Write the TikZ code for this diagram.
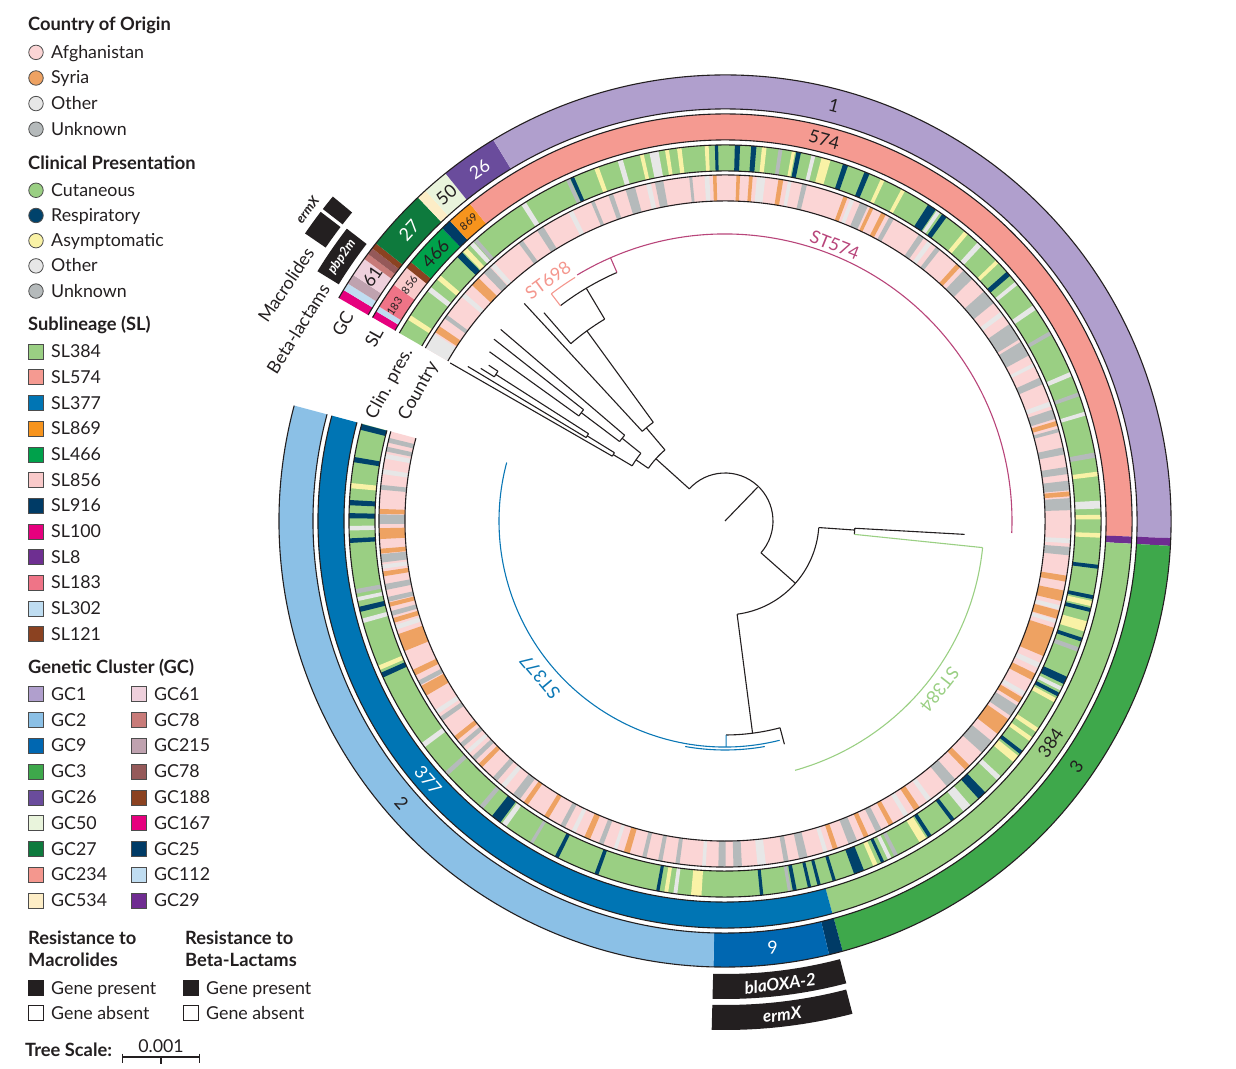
\documentclass[tikz,border=0pt]{standalone}
\usepackage{fontspec}
\setmainfont{Lato}

\definecolor{ink}{HTML}{231F20}
% country of origin
\definecolor{afg}{HTML}{FBD5D5}
\definecolor{syr}{HTML}{EEA262}
\definecolor{oth}{HTML}{E7E7E7}
\definecolor{unk}{HTML}{B5BABB}
% clinical presentation
\definecolor{cut}{HTML}{9ACF83}
\definecolor{resp}{HTML}{00426B}
\definecolor{asym}{HTML}{F9F2A6}
% sublineages
\definecolor{sl384}{HTML}{9ACF83}
\definecolor{sl574}{HTML}{F59A91}
\definecolor{sl377}{HTML}{0075B4}
\definecolor{sl869}{HTML}{F7941D}
\definecolor{sl466}{HTML}{00A14B}
\definecolor{sl856}{HTML}{F9CACA}
\definecolor{sl916}{HTML}{003B66}
\definecolor{sl100}{HTML}{E6007E}
\definecolor{sl8}{HTML}{6E2F91}
\definecolor{sl183}{HTML}{EF7487}
\definecolor{sl302}{HTML}{BFDDF1}
\definecolor{sl121}{HTML}{8B4221}
% genetic clusters
\definecolor{gc1}{HTML}{B09FCD}
\definecolor{gc2}{HTML}{8BC0E6}
\definecolor{gc9}{HTML}{0067B1}
\definecolor{gc3}{HTML}{3EA84B}
\definecolor{gc26}{HTML}{6A4C9C}
\definecolor{gc50}{HTML}{E9F4DC}
\definecolor{gc27}{HTML}{0E7A3D}
\definecolor{gc234}{HTML}{F4978E}
\definecolor{gc534}{HTML}{FDEDC6}
\definecolor{gc61}{HTML}{EED0DC}
\definecolor{gc78}{HTML}{C87B79}
\definecolor{gc215}{HTML}{BFA2AF}
\definecolor{gc78b}{HTML}{955959}
\definecolor{gc188}{HTML}{8B4221}
\definecolor{gc167}{HTML}{E6007E}
\definecolor{gc25}{HTML}{003B66}
\definecolor{gc112}{HTML}{C0DDF1}
\definecolor{gc29}{HTML}{6F2C91}
% clades
\definecolor{st574}{HTML}{B8457A}
\definecolor{st698}{HTML}{F4978E}
\definecolor{st384}{HTML}{9ACF83}
\definecolor{st377}{HTML}{0A77B5}

% colour, from angle, to angle, inner radius, outer radius
\newcommand\band[5]{%
  \fill[#1] (#2:#4) arc[start angle=#2, end angle=#3, radius=#4]
    -- (#3:#5) arc[start angle=#3, end angle=#2, radius=#5] -- cycle;}
% branch: angle, r1, r2
\newcommand\rline[4][]{\draw[treeline,#1] (#2:#3) -- (#2:#4);}
% node arc: from, to, radius
\newcommand\carc[4][]{\draw[treeline,#1] (#2:#4) arc[start angle=#2, end angle=#3, radius=#4];}

\begin{document}
\begin{tikzpicture}[x=1pt, y=1pt, font=\fontsize{17.8}{20}\selectfont, text=ink,
  treeline/.style={ink, line width=1.1},
  ringedge/.style={ink, line width=1.1},
  legenddot/.style={circle, draw=black!70, line width=0.8, minimum size=14.5, inner sep=0},
  keybox/.style={draw=black!70, line width=0.8, minimum size=15, inner sep=0},
  legendtext/.style={anchor=base west, inner sep=0},
  legendhead/.style={legendtext, font=\fontsize{18.3}{20}\selectfont\bfseries},
  ringnum/.style={inner sep=0},
  smallnum/.style={inner sep=0, font=\fontsize{11}{12}\selectfont},
  ringlab/.style={anchor=east, inner sep=0},
  cladelab/.style={inner sep=0},
  genelab/.style={inner sep=0, font=\fontsize{17}{20}\selectfont\bfseries\itshape}]

\useasboundingbox (0,0) rectangle (1236,1068);

\begin{scope}[shift={(725,547)}]

% country ring
\band{afg}{150}{-195}{320}{346}
\foreach \a/\w/\c in {148.6/2.8/oth, 146.3/1.2/syr, 143.8/0.7/unk, 139.2/0.8/oth, 136.2/1.6/syr,
  133.5/1.4/unk, 132.2/0.8/oth, 126.2/0.8/unk, 122.3/1.2/unk, 116.5/0.8/oth, 112.5/0.6/unk,
  109.3/0.8/unk, 105.9/1.6/unk, 102.8/0.8/oth, 101/1.4/unk, 95.7/0.5/unk, 93/0.8/oth,
  91.7/0.6/syr, 87.8/0.6/syr, 85.7/0.6/syr, 84/1.4/oth, 80.7/0.8/syr, 79.2/0.6/oth,
  76.7/0.8/unk, 69.6/0.7/syr, 68.4/0.7/oth, 66.3/1.4/unk, 64.9/0.6/syr, 62.7/0.8/syr,
  61.2/0.8/unk, 55.4/1/unk, 53.7/0.8/oth, 52/0.8/unk, 47.6/0.8/syr, 45.4/2/unk, 40.3/2.5/unk,
  36.8/0.8/oth, 33.2/3/unk, 29.9/2.6/unk, 26.8/0.6/oth, 23.9/1.2/unk, 19.8/0.8/oth, 18/1.6/unk,
  16.4/0.8/syr, 15.2/0.6/unk, 11.7/1.2/unk, 8.4/1.2/unk, 5.9/1.6/unk, 4.5/0.8/syr, 2.8/2/unk,
  -3.3/0.8/oth, -5/1.4/unk, -9.6/1/syr, -12.5/1.8/syr, -14.5/0.7/oth, -15.7/1.4/syr,
  -16.9/0.6/oth, -20.5/5/syr, -24.7/0.9/oth, -26.8/1.2/syr, -30/0.8/oth, -31.2/1/syr,
  -33.3/2/unk, -36.5/3/syr, -40.8/2.5/unk, -45.5/1/syr, -49.2/1.8/unk, -53.8/0.8/oth,
  -56.3/1/syr, -58.4/0.8/oth, -61.3/0.8/syr, -63.6/1/unk, -65.9/0.8/syr, -68.3/1.5/unk,
  -71.4/0.8/syr, -73.1/0.7/oth, -76.9/1.4/unk, -79.8/0.8/unk, -83.9/1.4/oth, -87.9/1.4/unk,
  -90.5/1.2/unk, -93.5/0.6/oth, -97.9/0.7/unk, -100.8/0.7/unk, -103.5/0.7/unk, -106.5/1/syr,
  -108.5/0.6/oth, -111/0.8/unk, -113.5/1/syr, -116/0.7/oth, -118/0.8/unk, -121.1/0.8/syr,
  -125.2/0.8/syr, -127.1/1.4/unk, -129.9/0.8/oth, -131.7/0.9/unk, -135/0.8/syr, -136.6/0.8/unk,
  -138.1/0.7/oth, -139.6/0.8/unk, -141.1/0.8/syr, -145.1/0.8/unk, -146.5/0.8/oth,
  -150.6/1.8/syr, -152.1/0.8/unk, -154/1/syr, -159.4/3/syr, -162.1/0.8/oth, -163.3/0.8/syr,
  -164.5/0.8/unk, -166/0.7/syr, -166.9/0.8/unk, -169/1/unk, -171.2/0.8/syr, -172.4/0.7/oth,
  -173.8/1.4/unk, -175/0.8/syr, -177.9/1.8/syr, -180.3/1.6/unk, -181.6/0.8/syr,
  -185.6/0.8/unk, -188.2/0.8/oth, -190.8/0.8/oth, -192/0.8/unk, -193.5/0.8/unk}
  \band{\c}{\a+\w/2}{\a-\w/2}{320}{346};

% clinical presentation ring
\band{cut}{150}{-195}{350}{376}
\foreach \a/\w/\c in {147.2/0.8/asym, 141.9/0.8/oth, 139.6/0.8/asym, 134.9/1/resp, 133.8/0.8/asym,
  132.4/0.7/oth, 131.6/0.6/unk, 122.4/0.8/oth, 114.7/0.6/unk, 114/0.6/resp, 110/0.7/asym,
  106.2/0.8/oth, 102.8/0.6/asym, 100.9/1.4/oth, 98.9/0.6/asym, 97/0.7/asym, 92.8/0.6/asym,
  91.3/0.5/resp, 88.1/0.8/resp, 85.6/0.8/resp, 84/0.7/asym, 81.5/0.6/unk, 79.5/0.5/asym,
  78.7/0.7/resp, 76.4/0.6/oth, 74.4/1.4/asym, 71.3/0.8/resp, 67.8/0.8/resp, 65.2/0.6/asym,
  61.7/0.6/asym, 56.6/1.4/resp, 55.4/0.6/oth, 54.3/0.8/resp, 50.1/0.7/asym, 47.4/0.8/oth,
  43.6/0.6/asym, 41.1/0.8/resp, 39.2/0.6/oth, 34.6/0.8/oth, 30/0.6/unk, 23/0.7/oth,
  19.7/0.6/unk, 16.6/0.6/oth, 10.1/0.8/unk, 7.2/0.7/asym, 2.5/1.2/oth, 0.6/0.7/asym,
  -2.2/0.7/asym, -7/0.6/resp, -11.7/0.6/resp, -12.7/0.8/asym, -13.7/0.6/resp, -16.3/1.6/asym,
  -18.4/0.6/resp, -20/0.7/unk, -25.1/1.2/resp, -26.5/0.6/oth, -27.5/0.6/resp, -28.5/0.7/asym,
  -33.8/0.7/asym, -35.5/0.7/asym, -38/0.6/resp, -39.3/1.2/asym, -43.2/0.8/oth, -46.9/1.4/resp,
  -49.9/1.4/oth, -52.7/0.6/resp, -57/0.6/resp, -58.2/1.2/asym, -62.9/0.6/unk, -64/0.6/oth,
  -65.2/0.5/resp, -66.4/0.7/asym, -69.1/1.6/resp, -73.1/0.5/resp, -75.5/0.5/resp,
  -77/0.5/resp, -79.3/0.6/resp, -80.1/0.5/unk, -84.4/0.5/resp, -94.4/1.6/asym, -97.6/0.6/oth,
  -99/0.6/asym, -100.3/0.5/resp, -110/0.6/resp, -116.6/0.6/resp, -121/0.5/unk, -126/0.8/oth,
  -127.5/1.6/resp, -130.4/0.7/unk, -137.8/0.7/unk, -143.4/0.8/oth, -155.8/0.8/resp,
  -157/0.7/asym, -164.6/0.7/oth, -166.4/0.8/resp, -168/0.6/oth, -169.2/0.7/unk, -177/0.7/resp,
  -178.9/0.7/oth, -180.8/0.8/resp, -182.8/0.8/resp, -185.4/0.8/asym, -189.4/0.8/resp,
  -194.5/0.9/resp}
  \band{\c}{\a+\w/2}{\a-\w/2}{350}{376};

% sublineage ring
\foreach \f/\t/\c in {150/149/sl100, 149/148.2/sl302, 148.2/144.5/sl183, 144.5/141.5/sl856,
  141.5/140.5/sl121, 140.5/134/sl466, 134/132.5/sl916, 132.5/128.8/sl869, 128.8/-2.2/sl574,
  -2.2/-3.2/sl8, -3.2/-74.7/sl384, -74.7/-195/sl377}
  \band{\c}{\f}{\t}{381}{407};

% genetic cluster ring
\foreach \f/\t/\c in {150/148.8/gc167, 148.8/147.8/gc112, 147.8/146.5/gc215, 146.5/144/gc61,
  144/143.2/gc78, 143.2/142.3/gc78b, 142.3/141.5/gc188, 141.5/133.5/gc27, 133.5/132.2/gc534,
  132.2/128.8/gc50, 128.8/121.3/gc26, 121.3/-2.2/gc1, -2.2/-3.2/gc29, -3.2/-74.7/gc3,
  -74.7/-76.5/gc25, -76.5/-91.5/gc9, -91.5/-195/gc2}
  \band{\c}{\f}{\t}{412}{446};

\foreach \r in {320,346,350,376,381,407,412,446}
  \draw[ringedge] (150:\r) arc[start angle=150, end angle=-195, radius=\r];

% resistance genes
\band{ink}{148.5}{142.3}{453}{478}
\band{ink}{145.6}{142.6}{484}{509}
\band{ink}{142.2}{140.4}{484}{509}
\band{ink}{-75.3}{-91.5}{453}{478}
\band{ink}{-75.5}{-91.5}{484}{509}

% tree
\rline{46}{0}{47}
\carc{138}{-41.5}{48}
\rline{138}{48}{93}
\carc{145.5}{130.2}{93}
\rline{-41.5}{48}{94}
\carc{-4}{-82.6}{94}
\rline{-4}{94}{130}
\carc{-3.2}{-5.9}{130}
\rline{-3.2}{130}{240}
\rline[st384]{-5.9}{130}{259}
\carc[st384]{-5.9}{-74.3}{259}
\rline{-82.6}{94}{214}
\carc{-75.1}{-89.7}{214}
\rline{-75.1}{214}{231}
\rline[st377]{-89.7}{214}{226}
\carc[st377]{-76}{-195}{226}
\carc[st377]{-80}{-100}{229}
\rline{130.2}{93}{122}
\carc{132.7}{126}{122}
\rline{132.7}{122}{296}
\rline{126}{122}{235}
\carc{131}{120.8}{235}
\rline{131}{235}{276}
\rline{120.8}{235}{271}
\carc{127.4}{113.5}{271}
\rline[st698]{127.4}{271}{286}
\carc[st698]{127.4}{121.6}{286}
\rline[st574]{113.5}{271}{287}
\carc[st574]{121}{-2.4}{287}
\rline{145.5}{93}{108}
\carc{149.3}{141.2}{108}
\rline{149.3}{108}{130}
\carc{150.1}{148.3}{130}
\rline{150.1}{130}{317}
\rline{148.3}{130}{162}
\carc{149}{147.4}{162}
\rline{149}{162}{300}
\rline{147.4}{162}{272}
\carc{148}{146.6}{272}
\rline{148}{272}{288}
\rline{146.6}{272}{283}
\rline{141.2}{108}{132}
\carc{143}{139.5}{132}
\rline{139.5}{132}{295}
\rline{143}{132}{180}
\carc{144.3}{141.8}{180}
\rline{144.3}{180}{290}
\rline{141.8}{180}{294}

% clade labels
\node[cladelab, text=st574, rotate=-21.7] (c574) at (68.3:297) {ST574};
\node[cladelab, text=st698, rotate=36.3] (c698) at (126.3:299) {ST698};
\node[cladelab, text=st384, rotate=-128.2] (c384) at (-38.2:273) {ST384};
\node[cladelab, text=st377, rotate=130.1] (c377) at (-139.9:242) {ST377};

% ring numbers
\node[ringnum, rotate=-14.7] (g1) at (75.3:429) {1};
\node[ringnum, text=white, rotate=34.9] (g26) at (124.9:429) {26};
\node[ringnum, rotate=40.5] (g50) at (130.5:429) {50};
\node[ringnum, text=white, rotate=47.4] (g27) at (137.4:429) {27};
\node[ringnum, rotate=55.3] (g61) at (145.3:429) {61};
\node[ringnum, rotate=-48.9] (g2) at (-138.9:429) {2};
\node[ringnum, rotate=55] (g3) at (-35:429) {3};
\node[ringnum, text=white, rotate=6.4] (g9) at (-83.6:429) {9};
\node[ringnum, rotate=-14.6] (s574) at (75.4:394) {574};
\node[smallnum, rotate=40.6] (s869) at (130.6:394) {869};
\node[ringnum, rotate=47.3] (s466) at (137.3:394) {466};
\node[smallnum, rotate=53.2] (s856) at (143.2:394) {856};
\node[smallnum, rotate=57] (s183) at (147:394) {183};
\node[ringnum, rotate=55.7] (s384) at (-34.3:394) {384};
\node[ringnum, text=white, rotate=-48.9] (s377) at (-138.9:394) {377};

% ring names
\node[ringlab, rotate=61] (lcountry) at (151.5:331) {Country};
\node[ringlab, rotate=61] (lclin) at (151.5:360) {Clin. pres.};
\node[ringlab, rotate=61] (lsl) at (151:396) {SL};
\node[ringlab, rotate=61] (lgc) at (151:430) {GC};
\node[ringlab, rotate=58] (lbeta) at (149.5:464) {Beta-lactams};
\node[ringlab, rotate=56] (lmac) at (146.8:496) {Macrolides};
\node[genelab, font=\fontsize{13}{14}\selectfont\bfseries\itshape, rotate=53] (lermx) at (143.3:521) {ermX};
\node[genelab, font=\fontsize{13}{14}\selectfont\bfseries\itshape, text=white, rotate=55.4] (lpbp) at (145.4:465.5) {pbp2m};
\node[genelab, text=white, rotate=6.7] (loxa) at (-83.2:466) {blaOXA-2};
\node[genelab, text=white, rotate=6.7] (lermb) at (-83.4:497) {ermX};

\end{scope}

% legend
\node[legendhead] (hco) at (28,1037) {Country of Origin};
\foreach \c/\t [count=\i, evaluate=\i as \y using 1015.6-(\i-1)*25.6] in
  {afg/Afghanistan, syr/Syria, oth/Other, unk/Unknown}{
  \node[legenddot, fill=\c] (co\i) at (36,\y) {};
  \node[legendtext] (cot\i) at (51,\y-6) {\t};
}
\node[legendhead] (hcp) at (28,898.7) {Clinical Presentation};
\foreach \c/\t [count=\i, evaluate=\i as \y using 877.7-(\i-1)*25.2] in
  {cut/Cutaneous, resp/Respiratory, asym/Asymptomatic, oth/Other, unk/Unknown}{
  \node[legenddot, fill=\c] (cp\i) at (36,\y) {};
  \node[legendtext] (cpt\i) at (51,\y-6) {\t};
}
\node[legendhead] (hsl) at (28,737.3) {Sublineage (SL)};
\foreach \c/\t [count=\i, evaluate=\i as \y using 716.3-(\i-1)*25.7] in
  {sl384/SL384, sl574/SL574, sl377/SL377, sl869/SL869, sl466/SL466, sl856/SL856,
   sl916/SL916, sl100/SL100, sl8/SL8, sl183/SL183, sl302/SL302, sl121/SL121}{
  \node[keybox, fill=\c] (sl\i) at (36,\y) {};
  \node[legendtext] (slt\i) at (51,\y-6) {\t};
}
\node[legendhead] (hgc) at (28,394) {Genetic Cluster (GC)};
\foreach \c/\t [count=\i, evaluate=\i as \y using 373.7-(\i-1)*25.8] in
  {gc1/GC1, gc2/GC2, gc9/GC9, gc3/GC3, gc26/GC26, gc50/GC50, gc27/GC27, gc234/GC234, gc534/GC534}{
  \node[keybox, fill=\c] (gca\i) at (36,\y) {};
  \node[legendtext] (gcat\i) at (51,\y-6) {\t};
}
\foreach \c/\t [count=\i, evaluate=\i as \y using 373.7-(\i-1)*25.8] in
  {gc61/GC61, gc78/GC78, gc215/GC215, gc78b/GC78, gc188/GC188, gc167/GC167, gc25/GC25, gc112/GC112, gc29/GC29}{
  \node[keybox, fill=\c] (gcb\i) at (138.5,\y) {};
  \node[legendtext] (gcbt\i) at (154,\y-6) {\t};
}

\node[legendhead] (hma) at (28,123.3) {Resistance to};
\node[legendhead] (hmb) at (28,101.3) {Macrolides};
\node[legendhead] (hba) at (185,123.3) {Resistance to};
\node[legendhead] (hbb) at (185,101.3) {Beta-Lactams};
\foreach \x/\n in {36/m, 191/b}{
  \node[keybox, draw=ink, fill=ink] (pr\n) at (\x,79.7) {};
  \node[legendtext] (prt\n) at (\x+15,73.7) {Gene present};
  \node[keybox, draw=ink, fill=white] (ab\n) at (\x,54.7) {};
  \node[legendtext] (abt\n) at (\x+15,48.7) {Gene absent};
}

% tree scale
\node[legendhead] (hts) at (25,12) {Tree Scale:};
\coordinate (sbl) at (122.7,11.3);
\coordinate (sbr) at (199.3,11.3);
\coordinate (sbm) at (161,11.3);
\draw[ink, line width=1.6] (sbl) -- (sbr);
\draw[ink, line width=1.2] (sbl) ++(0,3) -- ++(0,-9);
\draw[ink, line width=1.2] (sbr) ++(0,3) -- ++(0,-9);
\draw[ink, line width=1.2] (sbm) -- ++(0,-7);
\node[inner sep=0, anchor=base] (tsv) at (161,16) {0.001};

\end{tikzpicture}
\end{document}
